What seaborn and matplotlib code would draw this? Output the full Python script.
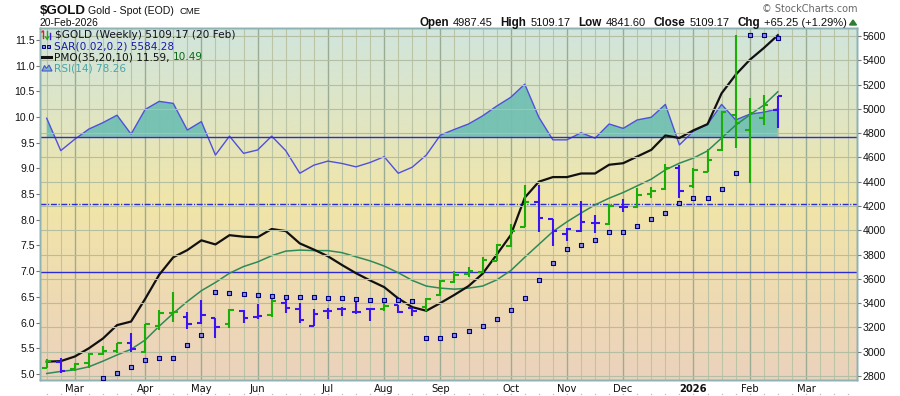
import numpy as np
import pandas as pd
import matplotlib
matplotlib.use("Agg")
import matplotlib.pyplot as plt
import matplotlib.transforms as mtransforms
from matplotlib.colors import LinearSegmentedColormap
from matplotlib.patches import Polygon
from matplotlib.lines import Line2D
from matplotlib import font_manager
import seaborn as sns

# ---------------- data (weekly $GOLD, weeks starting Mondays) ----------------
week_start = pd.date_range("2025-02-17", periods=53, freq="W-MON")

bar_open = [2868, 2913, 2855, 2910, 2981, 3006, 3074, 2995, 3214, 3321,
            3288, 3234, 3275, 3226, 3335, 3288, 3302, 3398, 3349, 3212,
            3335, 3354, 3327, 3349, 3349, 3385, 3357, 3366, 3470, 3577,
            3637, 3654, 3749, 3871, 4029, 4235, 4091, 3969, 3994, 4058,
            4052, 4194, 4188, 4296, 4337, 4511, 4365, 4482, 4661, 4949,
            4826, 4927, 4987.45]
bar_high = [2938, 2946, 2907, 2992, 3047, 3069, 3151, 3228, 3343, 3489,
            3329, 3426, 3280, 3349, 3343, 3393, 3432, 3440, 3398, 3349,
            3363, 3366, 3440, 3352, 3399, 3385, 3362, 3440, 3591, 3667,
            3695, 3777, 3884, 4052, 4373, 4373, 4093, 4017, 4242, 4127,
            4216, 4255, 4345, 4359, 4543, 4538, 4511, 4669, 4982, 5608,
            5092, 5114, 5109.17]
bar_low = [2863, 2822, 2844, 2863, 2973, 2987, 3000, 2987, 3179, 3247,
           3184, 3228, 3110, 3193, 3234, 3267, 3283, 3321, 3239, 3212,
           3267, 3294, 3311, 3255, 3335, 3321, 3296, 3338, 3459, 3563,
           3613, 3646, 3749, 3865, 4024, 3988, 3873, 3914, 3983, 3980,
           4044, 4153, 4180, 4263, 4332, 4263, 4345, 4477, 4653, 4680,
           4392, 4867, 4841.60]
bar_close = [2926, 2841, 2899, 2981, 3008, 3069, 3022, 3228, 3316, 3327,
             3228, 3302, 3201, 3343, 3280, 3294, 3420, 3362, 3261, 3311,
             3335, 3354, 3327, 3349, 3376, 3324, 3335, 3436, 3585, 3632,
             3667, 3755, 3879, 3997, 4235, 4103, 3997, 4008, 4071, 4058,
             4203, 4194, 4288, 4326, 4516, 4326, 4496, 4581, 4976, 4886,
             4963, 5032, 5109.17]
bar_color = [
    "g", "b", "g", "g", "g", "g", "b", "g", "g", "g",
    "b", "b", "b", "g", "b", "b", "g", "b", "b", "b",
    "b", "b", "b", "b", "g", "b", "b", "g", "g", "g",
    "g", "g", "g", "g", "g", "b", "b", "b", "b", "b",
    "g", "b", "g", "g", "g", "b", "g", "g", "g", "g",
    "g", "g", "b"]

sar = [np.nan, np.nan, np.nan, np.nan, 2781, 2822, 2872, 2929, 2946, 2946,
       3053, 3135, 3489, 3481, 3473, 3465, 3456, 3448, 3448, 3448,
       3440, 3440, 3434, 3426, 3426, 3426, 3415, 3110, 3110, 3137,
       3168, 3212, 3269, 3346, 3440, 3590, 3728, 3843, 3876, 3917,
       3983, 3983, 4033, 4090, 4140, 4222, 4263, 4263, 4337, 4469,
       5606, 5606, 5584.28]

pmo = [5.24, 5.25, 5.34, 5.50, 5.69, 5.95, 6.02, 6.46, 6.93, 7.27,
       7.41, 7.60, 7.52, 7.70, 7.67, 7.66, 7.82, 7.78, 7.54, 7.42,
       7.29, 7.12, 6.96, 6.82, 6.69, 6.47, 6.30, 6.23, 6.38, 6.54,
       6.71, 6.95, 7.32, 7.70, 8.43, 8.74, 8.83, 8.83, 8.90, 8.90,
       9.07, 9.10, 9.23, 9.36, 9.64, 9.59, 9.74, 9.86, 10.46, 10.82,
       11.11, 11.34, 11.59]
pmo_signal = [5.01, 5.05, 5.08, 5.14, 5.25, 5.37, 5.48, 5.66, 5.93, 6.18,
              6.41, 6.62, 6.78, 6.96, 7.09, 7.18, 7.30, 7.39, 7.41, 7.40,
              7.40, 7.36, 7.28, 7.20, 7.10, 6.97, 6.82, 6.71, 6.67, 6.65,
              6.67, 6.71, 6.83, 7.01, 7.27, 7.52, 7.77, 7.96, 8.13, 8.29,
              8.42, 8.53, 8.66, 8.79, 8.97, 9.10, 9.20, 9.34, 9.59, 9.84,
              10.04, 10.23, 10.49]
rsi = [75.5, 65.9, 69.3, 72.3, 74.2, 76.4, 70.8, 78.1, 80.5, 79.9,
       72.0, 74.5, 64.6, 70.2, 65.1, 66.1, 70.2, 65.9, 59.2, 61.6,
       62.8, 62.1, 61.1, 62.4, 64.1, 59.2, 61.0, 64.6, 70.5, 72.2,
       73.8, 76.2, 79.1, 81.7, 85.6, 75.8, 69.1, 69.1, 71.2, 69.6,
       73.8, 72.5, 75.0, 75.8, 79.6, 67.6, 71.7, 73.7, 79.6, 75.0,
       76.7, 77.3, 78.26]

price_ticks = list(range(2800, 5601, 200))
pmo_ticks = [5.0, 5.5, 6.0, 6.5, 7.0, 7.5, 8.0, 8.5, 9.0, 9.5, 10.0, 10.5, 11.0, 11.5]
rsi_levels = [70, 50, 30]

# ---------------- figure geometry ----------------
W, H = 900, 396
def fx(x):
    return x / W
def fy(y):
    return 1 - y / H

L, R, T, B = 40, 857, 28, 380
fig = plt.figure(figsize=(W / 100, H / 100), dpi=100)
fig.patch.set_facecolor("white")
ax = fig.add_axes([fx(L), fy(B), (R - L) / W, (B - T) / H])
ax_pmo = ax.twinx()
ax_px = ax.twinx()

idx = np.arange(len(bar_close))
n_axis = 58
all_weeks = pd.date_range(week_start[0], periods=n_axis, freq="W-MON")

# background gradient
cmap = LinearSegmentedColormap.from_list(
    "bg", [(0.0, "#d0e5dd"), (0.28, "#e2e5c0"), (0.5, "#f1e5a9"),
           (0.75, "#efdbb2"), (1.0, "#ebd2bd")])
grad = np.linspace(0, 1, 256).reshape(-1, 1)
ax.imshow(grad, cmap=cmap, aspect="auto", extent=[0, 1, 0, 1],
          transform=ax.transAxes, zorder=0, interpolation="bilinear")

# vertical grid: weekly light, month starts darker
month_pos, month_lab = [], []
for k in range(n_axis):
    d = all_weeks[k]
    is_month = k > 0 and d.month != all_weeks[k - 1].month
    if is_month:
        month_pos.append(k)
        month_lab.append(str(d.year) if d.month == 1 else d.strftime("%b"))
    ax.axvline(k, color="#9aac94" if is_month else "#bcc4a6",
               lw=1.0 if is_month else 0.8, zorder=1)

# RSI (overlay, scaled to its own axis)
rsi_a = np.array(rsi)
ax.fill_between(idx, rsi_a, 70, where=rsi_a >= 70, interpolate=True,
                color="#72c0b3", alpha=0.95, lw=0, zorder=2)
sns.lineplot(x=idx, y=rsi_a, ax=ax, color="#4f50dc", linewidth=1.0,
             legend=False, zorder=3)
ax.axhline(70, color="#2c2cd4", lw=1.0, zorder=3)
ax.axhline(30, color="#2c2cd4", lw=1.0, zorder=3)
ax.axhline(50, color="#2c2cd4", lw=1.0, ls=(0, (4.3, 1.2, 0.8, 1.2)), zorder=3)

# PMO
sns.lineplot(x=idx, y=pmo_signal, ax=ax_pmo, color="#2e8a58", linewidth=1.1,
             legend=False, zorder=3)
sns.lineplot(x=idx, y=pmo, ax=ax_pmo, color="#111111", linewidth=1.6,
             legend=False, zorder=4)

# price grid, bars, SAR
ax_px.set_yticks(price_ticks)
ax_px.grid(axis="y", color="#b3bea2", lw=0.8, zorder=0.5)
ax_px.set_axisbelow(True)
cols = ["#1cae08" if c == "g" else "#3a14f2" for c in bar_color]
tk = 0.32
ax_px.vlines(idx, bar_low, bar_high, colors=cols, lw=1.5, zorder=5)
ax_px.hlines(bar_open, idx - tk, idx, colors=cols, lw=1.5, zorder=5)
ax_px.hlines(bar_close, idx, idx + tk, colors=cols, lw=1.5, zorder=5)
sns.scatterplot(x=idx, y=sar, ax=ax_px, marker="s", s=7, color="#8a8ad8",
                edgecolor="#000080", linewidth=0.8, legend=False, zorder=6)

# limits
ax.set_xlim(-0.477, 57.63)
ax.set_ylim(-2.06, 102.24)
ax_pmo.set_ylim(4.883, 11.73)
ax_px.set_ylim(2767, 5666)

# axes styling
for a in (ax, ax_pmo, ax_px):
    a.set_xlabel("")
    a.set_ylabel("")
    for s in a.spines.values():
        s.set_color("#8fb3b3")
        s.set_linewidth(1.0)
ax.set_yticks([])
ax_pmo.yaxis.tick_left()
ax_pmo.set_yticks(pmo_ticks)
ax_pmo.set_yticklabels([f"{v:.1f}" for v in pmo_ticks])
ax_px.set_yticklabels([str(v) for v in price_ticks])
for a in (ax_pmo, ax_px):
    a.tick_params(axis="y", length=3, width=0.8, color="#777777", pad=0.8,
                  labelsize=7.6, labelcolor="#111111")
    for lbl in a.get_yticklabels():
        lbl.set_fontfamily("Liberation Sans")

ax.set_xticks(month_pos)
ax.set_xticklabels(month_lab)
ax.tick_params(axis="x", length=0, pad=2.6, labelsize=7.2, labelcolor="#111111")
for lbl in ax.get_xticklabels():
    lbl.set_fontfamily("DejaVu Sans")
    if lbl.get_text().isdigit():
        lbl.set_fontweight("bold")

# dotted week marks below axis
trans = mtransforms.blended_transform_factory(ax.transData, fig.transFigure)
ax.plot(np.arange(n_axis), np.full(n_axis, fy(394.3)), ls="none", marker="s",
        ms=0.9, color="#bbbbbb", mew=0, transform=trans, clip_on=False)

# ---------------- texts ----------------
renderer = fig.canvas.get_renderer()

def seq_text(parts, x_px, y_px, ha="left"):
    objs, widths = [], []
    for s, kw, gap in parts:
        t = fig.text(0, 0, s, **kw)
        bb = t.get_window_extent(renderer)
        objs.append(t)
        widths.append(bb.width + gap)
    total = sum(widths)
    x = x_px if ha == "left" else x_px - total
    for t, w in zip(objs, widths):
        t.set_position((fx(x), fy(y_px)))
        t.set_ha("left")
        t.set_va("baseline")
        x += w

names = {f.name for f in font_manager.fontManager.ttflist}
narrow = "Liberation Sans Narrow" if "Liberation Sans Narrow" in names else "Liberation Sans"
gold_size = 11.2 if narrow == "Liberation Sans Narrow" else 9.6

fig.text(fx(40), fy(14.3), "$GOLD", fontsize=gold_size, fontweight="bold",
         family=narrow, va="baseline", color="#111111")
fig.text(fx(88), fy(14.3), "Gold - Spot (EOD)", fontsize=7.6,
         family="Liberation Sans", va="baseline", color="#111111")
fig.text(fx(179), fy(14.3), "CME", fontsize=6.8,
         family="Liberation Sans", va="baseline", color="#111111")
fig.text(fx(40), fy(25.7), "20-Feb-2026", fontsize=7.4,
         family="Liberation Sans", va="baseline", color="#111111")

bold = dict(fontsize=8.4, fontweight="bold", family="Liberation Sans", color="#111111")
norm = dict(fontsize=8.0, family="Liberation Sans", color="#111111")
seq_text([("Open", bold, 4), ("4987.45", norm, 8),
          ("High", bold, 4), ("5109.17", norm, 8),
          ("Low", bold, 4), ("4841.60", norm, 8),
          ("Close", bold, 4), ("5109.17", norm, 8),
          ("Chg", bold, 4), ("+65.25 (+1.29%)", norm, 0)],
         847, 26.0, ha="right")
fig.patches.append(Polygon([(fx(849.5), fy(25)), (fx(856.5), fy(25)), (fx(853), fy(20))],
                           closed=True, color="#2e7d32", transform=fig.transFigure))
fig.text(fx(857), fy(12.5), "\u00a9 StockCharts.com", fontsize=7, family="DejaVu Sans",
         color="#666666", ha="right", va="baseline")

# legend inside plot
lg = dict(fontsize=7.6, family="DejaVu Sans")
fig.text(fx(55), fy(38.5), "$GOLD (Weekly) 5109.17 (20 Feb)", color="#111122",
         va="baseline", **lg)
fig.text(fx(53.5), fy(49.5), "SAR(0.02,0.2) 5584.28", color="#1a1aa8",
         va="baseline", **lg)
seq_text([("PMO(35,20,10) 11.59,", dict(color="#111111", **lg), 3.5),
          ("10.49", dict(color="#0a6a1a", **lg), 0)], 53.5, 60.5)
fig.text(fx(53.5), fy(71.5), "RSI(14) 78.26", color="#4aa5a8", va="baseline", **lg)

# legend icons
def fline(xs, ys, **kw):
    fig.lines.append(Line2D([fx(v) for v in xs], [fy(v) for v in ys],
                            transform=fig.transFigure, **kw))

fline([43, 43], [31, 38], color="#dd2222", lw=1.0)
fline([42, 43], [32, 31], color="#dd2222", lw=1.0)
fline([47, 47], [31, 39], color="#1cae08", lw=1.0)
fline([45.5, 47, 48.5], [37, 39, 37], color="#1cae08", lw=1.0)
fline([49.5, 49.5], [33, 39], color="#3a14f2", lw=1.0)
for xx in (43.5, 48.5):
    fig.patches.append(Polygon([(fx(xx - 1.5), fy(44.5)), (fx(xx + 1.5), fy(44.5)),
                                (fx(xx + 1.5), fy(47.5)), (fx(xx - 1.5), fy(47.5))],
                               closed=True, facecolor="#8a8ad8", edgecolor="#000080",
                               lw=0.7, transform=fig.transFigure))
fline([42, 51], [57, 57], color="#111111", lw=2.2)
fig.patches.append(Polygon([(fx(42), fy(71)), (fx(44.5), fy(65.5)), (fx(46.5), fy(68.5)),
                            (fx(49), fy(65)), (fx(52), fy(71))], closed=True,
                           facecolor="#72c0b3", edgecolor="#4f50dc", lw=0.8,
                           transform=fig.transFigure))

fig.savefig("out.png", dpi=100, facecolor="white")
